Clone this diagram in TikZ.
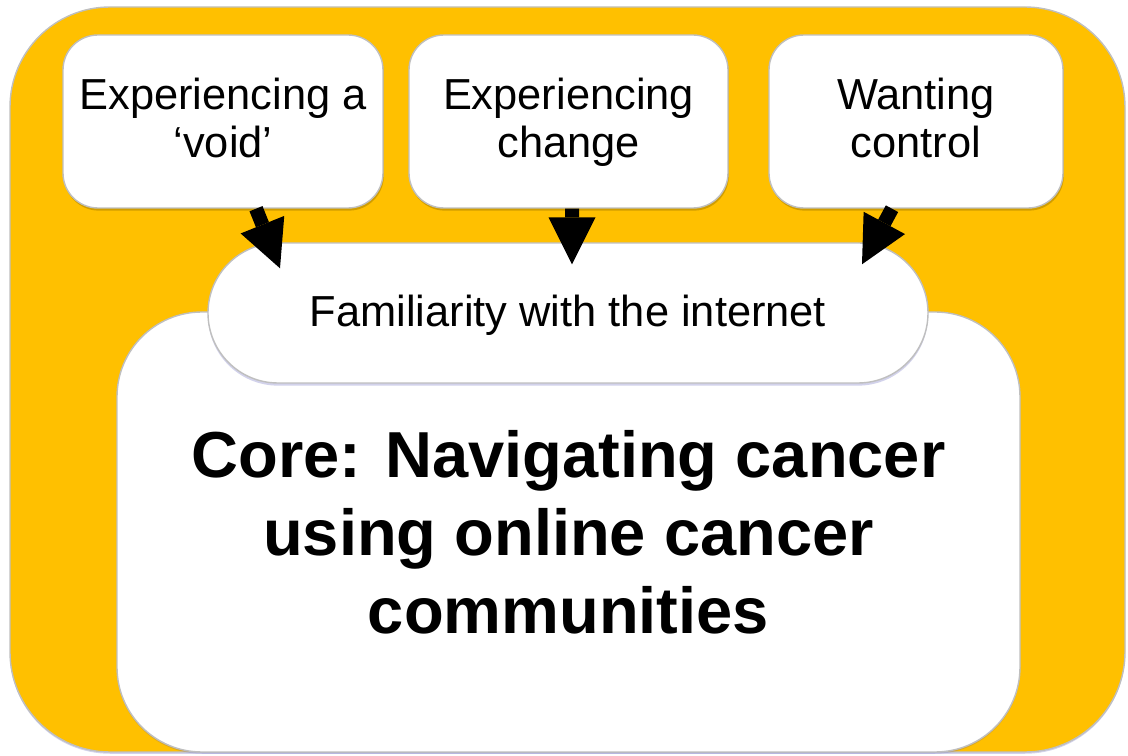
\documentclass[tikz,border=0pt]{standalone}
\usepackage{fontspec}
\setmainfont{Liberation Sans}
\usetikzlibrary{arrows.meta,shadows}
\definecolor{gold}{HTML}{FFC000}
\definecolor{edgegray}{HTML}{BFBFBF}
\def\themefont{\fontsize{24.7}{27.5}\selectfont}
\def\corefont{\fontsize{37}{44.4}\selectfont\bfseries}
\tikzstyle{framestyle}=[rectangle, draw=edgegray, line width=0.8pt,
fill=gold, rounded corners=2cm, minimum width=22.3cm, minimum height=14.9cm,
drop shadow={opacity=0.25,fill=blue!40!gray,shadow xshift=0pt,shadow yshift=-1pt}]
\tikzstyle{corestyle}=[rectangle, draw=edgegray, line width=0.8pt,
fill=white, rounded corners=1.7cm, minimum width=18.06cm, minimum height=8.8cm,
align=center, font=\corefont,
drop shadow={opacity=0.2,fill=blue!40!gray,shadow xshift=0pt,shadow yshift=-1pt}]
\tikzstyle{ovalstyle}=[rectangle, draw=edgegray, line width=0.8pt,
fill=white, rounded corners=1.4cm, minimum width=14.4cm, minimum height=2.8cm,
font=\themefont, text depth=2.5pt,
drop shadow={opacity=0.25,fill=blue!40!gray,shadow xshift=0pt,shadow yshift=-1.5pt}]
\tikzstyle{themestyle}=[rectangle, draw=edgegray, line width=0.8pt,
fill=white, rounded corners=0.7cm, minimum height=3.46cm, align=center,
font=\themefont, text depth=4.5pt,
drop shadow={opacity=0.3,fill=black!60!gold,shadow xshift=0.5pt,shadow yshift=-1.5pt}]
\tikzstyle{arrowstyle}=[line width=0.28cm,
-{Triangle[length=0.94cm,width=0.94cm,line width=0pt]}]

\begin{document}
\begin{tikzpicture}
\useasboundingbox (0,0) rectangle (22.56,15.12);

% Background frame
\path (11.35,7.53) node[framestyle] (frame) {};

% Core category
\path (11.37,4.48) node[corestyle] (core)
	{Core: Navigating cancer\\ using online cancer\\ communities};
\path (11.36,8.86) node[ovalstyle] (fam) {Familiarity with the internet};

% Themes
\path (4.46,12.69) node[themestyle, minimum width=6.4cm] (void)
	{Experiencing a\\ `void'};
\path (11.37,12.69) node[themestyle, minimum width=6.38cm] (change)
	{Experiencing\\ change};
\path (18.32,12.69) node[themestyle, minimum width=5.88cm] (control)
	{Wanting\\ control};

% Arrows into the oval
\draw[arrowstyle] ([xshift=0.66cm]void.south)
	-- ([xshift=-5.76cm,yshift=-0.52cm]fam.north);
\draw[arrowstyle] ([xshift=0.07cm]change.south)
	-- ([xshift=0.08cm,yshift=-0.44cm]fam.north);
\draw[arrowstyle] ([xshift=-0.48cm]control.south)
	-- ([xshift=5.88cm,yshift=-0.44cm]fam.north);

\end{tikzpicture}
\end{document}
